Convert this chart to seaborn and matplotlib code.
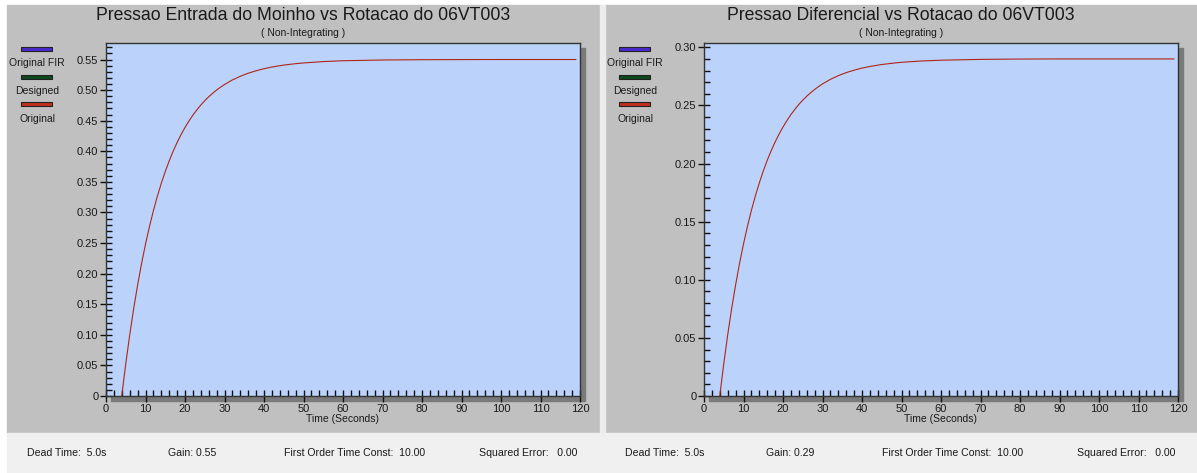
import numpy as np
import matplotlib
matplotlib.use("Agg")
import matplotlib.pyplot as plt
from matplotlib.patches import Rectangle
from matplotlib.ticker import MultipleLocator, FuncFormatter
import seaborn as sns

# Step responses (time in seconds, response in process units)
time_s = [4, 4.5, 5, 6, 7, 8, 9, 10, 11, 12, 13, 14, 15, 16, 17, 18, 19, 20, 21, 22,
          23, 24, 25, 26, 27, 28, 29, 30, 32, 34, 36, 38, 40, 42, 45, 48, 50, 55, 60,
          70, 80, 90, 100, 110, 119]
resp_moinho = [0.0, 0.0268, 0.0524, 0.0997, 0.1426, 0.1813, 0.2164, 0.2482, 0.2769,
               0.3029, 0.3264, 0.3477, 0.3669, 0.3843, 0.4001, 0.4144, 0.4273, 0.4389,
               0.4495, 0.4591, 0.4677, 0.4756, 0.4826, 0.4891, 0.4948, 0.5001, 0.5048,
               0.5091, 0.5166, 0.5226, 0.5276, 0.5316, 0.5350, 0.5377, 0.5409, 0.5432,
               0.5444, 0.5466, 0.5480, 0.5492, 0.5497, 0.5499, 0.5500, 0.5500, 0.5500]
resp_diferencial = [0.0, 0.0141, 0.0276, 0.0526, 0.0752, 0.0956, 0.1141, 0.1308, 0.1460,
                    0.1597, 0.1721, 0.1833, 0.1935, 0.2027, 0.2110, 0.2185, 0.2253, 0.2314,
                    0.2370, 0.2421, 0.2466, 0.2508, 0.2545, 0.2579, 0.2609, 0.2637, 0.2662,
                    0.2685, 0.2724, 0.2756, 0.2782, 0.2803, 0.2821, 0.2835, 0.2852, 0.2864,
                    0.2871, 0.2882, 0.2889, 0.2896, 0.2899, 0.2900, 0.2900, 0.2900, 0.2900]

titles = ["Pressao Entrada do Moinho vs Rotacao do 06VT003",
          "Pressao Diferencial vs Rotacao do 06VT003"]
subtitle = "( Non-Integrating )"
legend_labels = ["Original FIR", "Designed", "Original"]
legend_colors = ["#4a2bd0", "#0c4a1e", "#c0301c"]
dead_time = ["5.0s", "5.0s"]
gains = ["0.55", "0.29"]
time_const = ["10.00", "10.00"]
sq_error = ["0.00", "0.00"]
y_tops = [0.577, 0.3037]

sns.set_theme(style="ticks")
plt.rcParams["font.family"] = ["Liberation Sans", "DejaVu Sans"]

W, H = 1197, 473
fig = plt.figure(figsize=(W / 100, H / 100), dpi=100, facecolor="white")


def fx(x):
    return x / W


def fy(y):
    return 1 - y / H


PANEL = "#c0c0c0"
PLOT_BG = "#bbd3fb"
TEXT = "#1a1a1a"

# panel backgrounds and status bar
fig.add_artist(Rectangle((fx(7), fy(433)), fx(600 - 7), (433 - 5) / H,
                         transform=fig.transFigure, color=PANEL, zorder=0))
fig.add_artist(Rectangle((fx(605), fy(433)), fx(W - 605), (433 - 5) / H,
                         transform=fig.transFigure, color=PANEL, zorder=0))
fig.add_artist(Rectangle((fx(600), fy(433)), fx(5), (433 - 5) / H,
                         transform=fig.transFigure, color="#ececec", zorder=0))
fig.add_artist(Rectangle((fx(7), 0), fx(W - 7), (H - 433) / H,
                         transform=fig.transFigure, color="#f0f0f0", zorder=0))

axes_px = [(106, 580), (704, 1178)]
panel_centers = [303, 901]
top_px, bot_px = 43, 396
series = [resp_moinho, resp_diferencial]
panel_offsets = [0, 598]

for i in range(2):
    x0, x1 = axes_px[i]
    off = panel_offsets[i]
    # drop shadow behind the plotting area
    fig.add_artist(Rectangle((fx(x0 + 5), fy(bot_px + 5)), fx(x1 - x0), (bot_px - top_px) / H,
                             transform=fig.transFigure, color="#7a7a7a", zorder=1))
    ax = fig.add_axes([fx(x0), fy(bot_px), fx(x1 - x0), (bot_px - top_px) / H], zorder=2)
    ax.set_facecolor(PLOT_BG)
    sns.lineplot(x=time_s, y=series[i], ax=ax, color="#b02418", linewidth=0.8)
    ax.set_xlim(0, 120)
    ax.set_ylim(0, y_tops[i])
    ax.xaxis.set_major_locator(MultipleLocator(10))
    ax.xaxis.set_minor_locator(MultipleLocator(2))
    ax.yaxis.set_major_locator(MultipleLocator(0.05))
    ax.yaxis.set_minor_locator(MultipleLocator(0.01))
    ax.yaxis.set_major_formatter(FuncFormatter(lambda v, p: "0" if abs(v) < 1e-9 else f"{v:.2f}"))
    ax.tick_params(which="major", direction="inout", length=9, width=1, color="#111111",
                   labelsize=8, labelcolor=TEXT, pad=1)
    ax.tick_params(which="minor", direction="in", length=4, width=1, color="#111111")
    for s in ax.spines.values():
        s.set_color("#333333")
        s.set_linewidth(1)
    ax.set_xlabel("Time (Seconds)", fontsize=7.5, color=TEXT, labelpad=0)
    ax.set_ylabel("")
    ax.grid(False)

    cx = panel_centers[i]
    fig.text(fx(cx), fy(16), titles[i], ha="center", va="center", fontsize=12.7, color=TEXT)
    fig.text(fx(cx), fy(33), subtitle, ha="center", va="center", fontsize=7.5, color=TEXT)

    # series key on the left of each panel
    for k, (lab, col) in enumerate(zip(legend_labels, legend_colors)):
        ry = 47.5 + k * 27.5
        fig.add_artist(Rectangle((fx(off + 21), fy(ry + 4)), fx(31), 4 / H,
                                 transform=fig.transFigure, facecolor=col,
                                 edgecolor="#222222", linewidth=0.8, zorder=3))
        fig.text(fx(off + 37), fy(ry + 16), lab, ha="center", va="center",
                 fontsize=7.5, color=TEXT)

    # model summary in the status bar
    sy = fy(453)
    fig.text(fx(off + 27), sy, f"Dead Time:  {dead_time[i]}", ha="left", va="center",
             fontsize=7.6, color=TEXT)
    fig.text(fx(off + 168), sy, f"Gain: {gains[i]}", ha="left", va="center",
             fontsize=7.6, color=TEXT)
    fig.text(fx(off + 284), sy, f"First Order Time Const:  {time_const[i]}", ha="left",
             va="center", fontsize=7.6, color=TEXT)
    fig.text(fx(off + 479), sy, f"Squared Error:   {sq_error[i]}", ha="left", va="center",
             fontsize=7.6, color=TEXT)

fig.savefig("out.png", dpi=100, facecolor="white")
